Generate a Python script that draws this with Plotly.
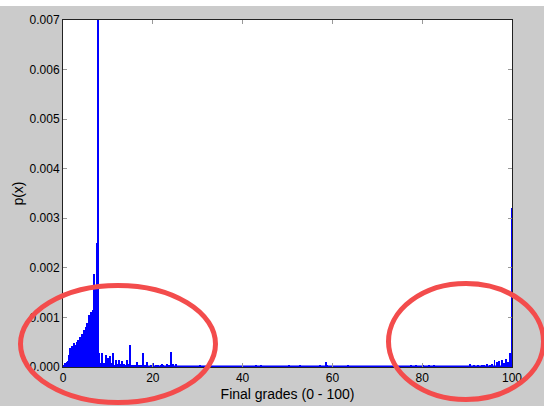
import plotly.graph_objects as go

# ---------------- data ----------------
# dense low-grade ramp, bins of 0.2 grade points
ramp_x = [0.2, 0.4, 0.6, 0.8, 1.0, 1.2, 1.4, 1.6, 1.8, 2.0,
          2.2, 2.4, 2.6, 2.8, 3.0, 3.2, 3.4, 3.6, 3.8, 4.0,
          4.2, 4.4, 4.6, 4.8, 5.0, 5.2, 5.4, 5.6, 5.8, 6.0,
          6.2, 6.4, 6.6, 6.8, 7.0, 7.2, 7.4, 7.6, 7.8, 8.0]
ramp_p = [0.00003, 0.00008, 0.00005, 0.00010, 0.00006, 0.00012, 0.00025, 0.00038, 0.00032, 0.00042,
          0.00035, 0.00048, 0.00039, 0.00045, 0.00051, 0.00042, 0.00055, 0.00048, 0.00061, 0.00054,
          0.00066, 0.00058, 0.00075, 0.00065, 0.00080, 0.00070, 0.00088, 0.00081, 0.00105, 0.00092,
          0.00111, 0.00098, 0.00115, 0.00124, 0.00187, 0.00105, 0.00160, 0.00250, 0.00850, 0.00028]

# low tail after the peak, bins of 0.4 grade points
tail_x = [8.4, 8.8, 9.2, 9.6, 10.0, 10.4, 10.8, 11.2, 11.6, 12.0,
          12.4, 12.8, 13.2, 13.6, 14.0, 14.4, 14.8, 15.2, 15.6, 16.0,
          16.4, 16.8, 17.2, 17.6, 18.0, 18.4, 18.8, 19.2, 19.6, 20.0,
          20.4, 20.8, 21.2, 21.6, 22.0, 22.4, 22.8, 23.2, 23.6, 24.0, 24.4]
tail_p = [0.00009, 0.00007, 0.00008, 0.00006, 0.00007, 0.00005, 0.00008, 0.00006, 0.00005, 0.00007,
          0.00004, 0.00006, 0.00005, 0.00007, 0.00004, 0.00005, 0.00006, 0.00004, 0.00003, 0.00005,
          0.00004, 0.00003, 0.00005, 0.00004, 0.00003, 0.00004, 0.00003, 0.00002, 0.00004, 0.00003,
          0.00002, 0.00003, 0.00003, 0.00002, 0.00004, 0.00003, 0.00002, 0.00003, 0.00004, 0.00005, 0.00003]

# isolated spikes (grade, density)
spike_x = [8.75, 9.5, 9.95, 10.5, 11.05, 11.7, 12.5, 13.1, 14.2, 14.9,
           16.4, 17.9, 18.6, 20.1, 22.0, 23.1, 24.05, 24.6, 25.2, 30.5,
           43.0, 44.2, 50.3, 52.8, 57.2, 58.5, 58.9, 63.5, 66.0, 77.6,
           78.6, 80.1, 81.5, 82.6, 90.6, 91.5, 92.5, 93.3, 93.8, 94.4,
           95.0, 95.6, 96.1, 96.7, 97.2, 97.7, 98.2, 98.7, 99.2, 99.45, 99.9]
spike_p = [0.00028, 0.00024, 0.00018, 0.00022, 0.00028, 0.00015, 0.00014, 0.00012, 0.00014, 0.00044,
           0.00010, 0.00028, 0.00010, 0.00008, 0.00007, 0.00007, 0.00031, 0.00006, 0.00006, 0.00005,
           0.00004, 0.00004, 0.00003, 0.00003, 0.00004, 0.00010, 0.00005, 0.00004, 0.00002, 0.00004,
           0.00003, 0.00004, 0.00003, 0.00003, 0.00007, 0.00005, 0.00004, 0.00005, 0.00004, 0.00006,
           0.00005, 0.00006, 0.00015, 0.00010, 0.00012, 0.00014, 0.00008, 0.00016, 0.00010, 0.00029, 0.00320]

# minimum density level present over the whole grade range
floor_x = [0, 100]
floor_p = [0.000025, 0.000025]

x_ticks = [0, 20, 40, 60, 80, 100]
y_ticks = [0.000, 0.001, 0.002, 0.003, 0.004, 0.005, 0.006, 0.007]

BLUE = "rgb(0,0,255)"
GRAY_BG = "#cbcbcb"
RED = "rgb(243,76,76)"

fig = go.Figure()
fig.add_trace(go.Scatter(x=floor_x, y=floor_p, mode="lines", fill="tozeroy",
                         fillcolor=BLUE, line=dict(color=BLUE, width=0.5),
                         hoverinfo="skip", showlegend=False))
fig.add_trace(go.Bar(x=tail_x, y=tail_p, width=0.4, marker=dict(color=BLUE, line_width=0),
                     showlegend=False))
fig.add_trace(go.Bar(x=ramp_x, y=ramp_p, width=0.2, marker=dict(color=BLUE, line_width=0),
                     showlegend=False))
fig.add_trace(go.Bar(x=spike_x, y=spike_p, width=0.22, marker=dict(color=BLUE, line_width=0),
                     showlegend=False))

W, H = 544, 406
ml, mr, mt, mb = 63, 32, 20, 39
pw, ph = W - ml - mr, H - mt - mb


def px2paper_x(px):
    return (px - ml) / pw


def px2paper_y(py):
    return (H - mb - py) / ph


shapes = [
    # white strip along the very top of the picture
    dict(type="rect", xref="paper", yref="paper",
         x0=px2paper_x(-5), x1=px2paper_x(W + 5), y0=px2paper_y(6), y1=px2paper_y(-5),
         fillcolor="white", line_width=0, layer="above"),
    # red highlight ellipses
    dict(type="circle", xref="paper", yref="paper",
         x0=px2paper_x(20.5), x1=px2paper_x(215.5), y0=px2paper_y(402.5), y1=px2paper_y(285.5),
         line=dict(color=RED, width=5), fillcolor="rgba(0,0,0,0)", layer="above"),
    dict(type="circle", xref="paper", yref="paper",
         x0=px2paper_x(388.5), x1=px2paper_x(543.5), y0=px2paper_y(399.5), y1=px2paper_y(283.5),
         line=dict(color=RED, width=5), fillcolor="rgba(0,0,0,0)", layer="above"),
]

font_family = "Liberation Sans, Arial, Helvetica, sans-serif"

fig.update_layout(
    width=W, height=H,
    margin=dict(l=ml, r=mr, t=mt, b=mb, pad=0, autoexpand=False),
    paper_bgcolor=GRAY_BG, plot_bgcolor="white",
    bargap=0, barmode="overlay",
    showlegend=False,
    font=dict(family=font_family, size=12, color="black"),
    shapes=shapes,
    xaxis=dict(range=[0, 100], tickvals=x_ticks, ticktext=[str(v) for v in x_ticks],
               showgrid=False, zeroline=False, showline=True, linecolor="#222", linewidth=1,
               mirror="allticks", ticks="inside", ticklen=4, tickcolor="#999", tickwidth=1,
               automargin=False,
               title=dict(text="Final grades (0 - 100)", standoff=4),
               tickfont=dict(size=12)),
    yaxis=dict(range=[0, 0.007], tickvals=y_ticks, tickformat=".3f",
               showgrid=False, zeroline=False, showline=True, linecolor="#222", linewidth=1,
               mirror="allticks", ticks="inside", ticklen=4, tickcolor="#999", tickwidth=1,
               automargin=False,
               title=dict(text="p(x)", standoff=2),
               tickfont=dict(size=12)),
)

fig.write_html("out.html",
               config={"displayModeBar": False},
               post_script="document.body.style.margin='0';document.body.style.padding='0';")
